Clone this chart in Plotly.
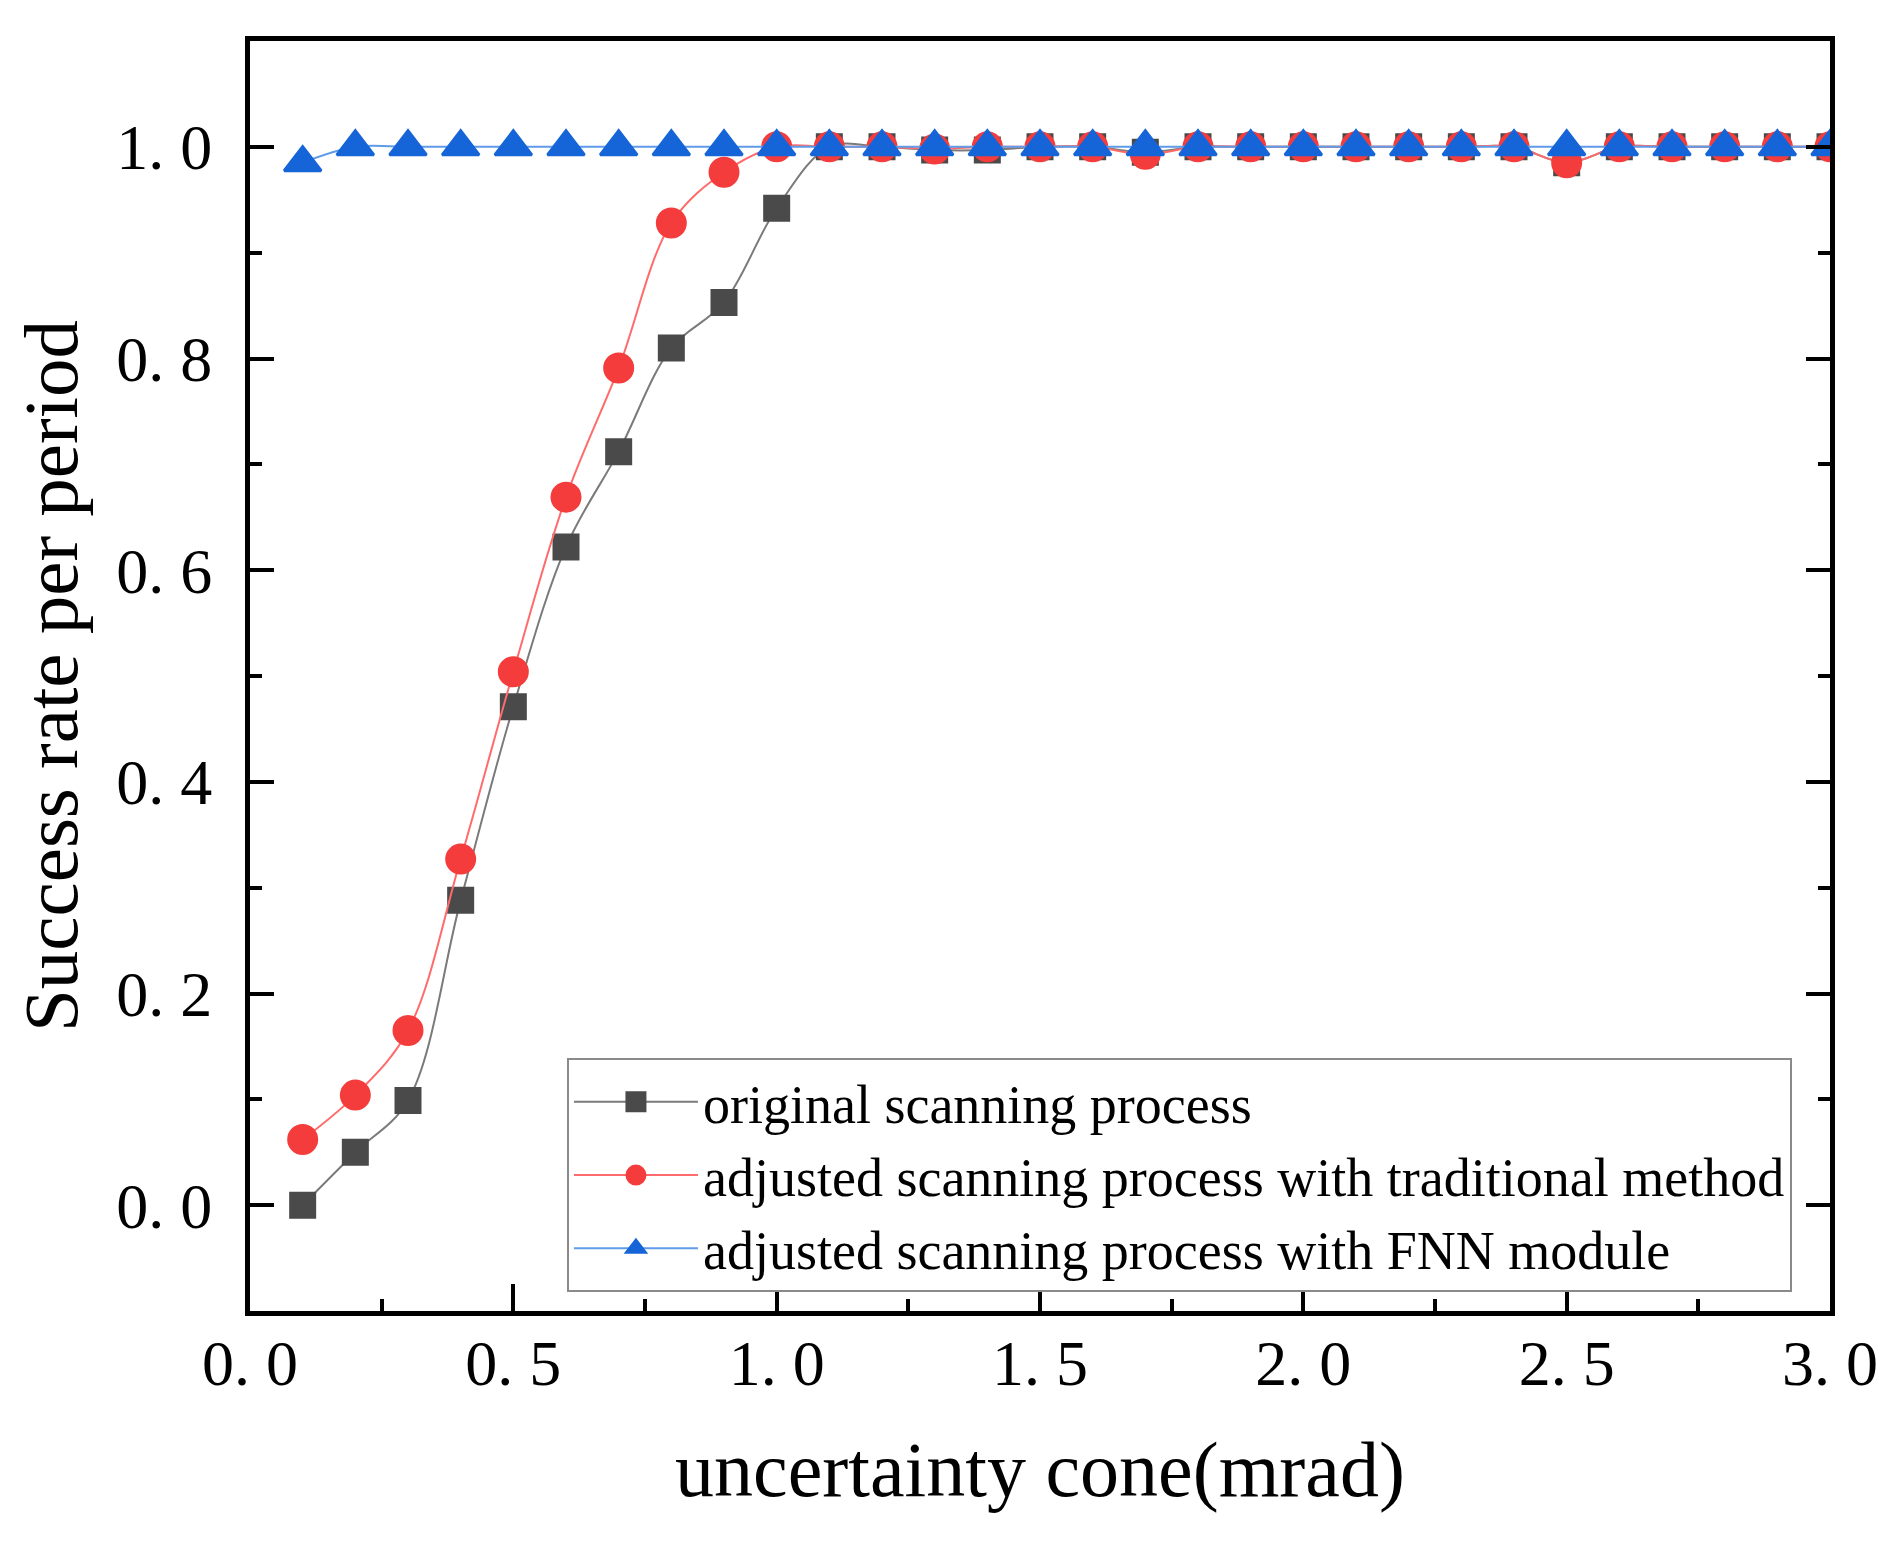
import plotly.graph_objects as go

x_vals = [round(0.1 * i, 1) for i in range(1, 31)]

original = [0.0, 0.05, 0.099, 0.288, 0.471, 0.622, 0.712, 0.81, 0.853, 0.942,
            1.0, 1.0, 0.997, 0.997, 1.0, 1.0, 0.995, 1.0, 1.0, 1.0,
            1.0, 1.0, 1.0, 1.0, 0.985, 1.0, 1.0, 1.0, 1.0, 1.0]
traditional = [0.062, 0.104, 0.165, 0.327, 0.504, 0.669, 0.791, 0.928, 0.976, 1.0,
               1.0, 1.0, 0.998, 1.0, 1.0, 1.0, 0.993, 1.0, 1.0, 1.0,
               1.0, 1.0, 1.0, 1.0, 0.985, 1.0, 1.0, 1.0, 1.0, 1.0]
fnn = [0.985] + [1.0] * 29

series_names = ["original scanning process",
                "adjusted scanning process with traditional method",
                "adjusted scanning process with FNN module"]

x_tickvals = [0, 0.5, 1.0, 1.5, 2.0, 2.5, 3.0]
x_ticktext = ["0. 0", "0. 5", "1. 0", "1. 5", "2. 0", "2. 5", "3. 0"]
y_tickvals = [0, 0.2, 0.4, 0.6, 0.8, 1.0]
y_ticktext = ["0. 0", "0. 2", "0. 4", "0. 6", "0. 8", "1. 0"]

FONT = "Liberation Serif, Times New Roman, serif"

fig = go.Figure()
fig.add_trace(go.Scatter(
    x=x_vals, y=original, name=series_names[0], mode="lines+markers", cliponaxis=True,
    line=dict(color="#7a7a7a", width=2, shape="spline", smoothing=1.0),
    marker=dict(symbol="square", size=22, color="#4a4a4a",
                line=dict(color="#4a4a4a", width=5))))
fig.add_trace(go.Scatter(
    x=x_vals, y=traditional, name=series_names[1], mode="lines+markers", cliponaxis=True,
    line=dict(color="#ff6b6b", width=2, shape="spline", smoothing=1.0),
    marker=dict(symbol="circle", size=26, color="#f43c3c",
                line=dict(color="#f43c3c", width=5))))
fig.add_trace(go.Scatter(
    x=x_vals, y=fnn, name=series_names[2], mode="lines+markers", cliponaxis=True,
    line=dict(color="#5f9be8", width=2, shape="spline", smoothing=1.0),
    marker=dict(symbol="triangle-up", size=32, color="#1565d8",
                line=dict(color="#1565d8", width=3))))

axis_common = dict(
    showgrid=False, zeroline=False, showline=True, linecolor="black", linewidth=5,
    ticks="inside", tickcolor="black", tickwidth=4,
    tickfont=dict(family=FONT, size=64, color="black"),
)

fig.update_xaxes(
    **axis_common, range=[0, 3.0], mirror=True,
    tickmode="array", tickvals=x_tickvals, ticktext=x_ticktext, ticklen=27,
    ticklabelstandoff=-8,
    minor=dict(tickmode="linear", tick0=0, dtick=0.25, ticks="inside",
               ticklen=12, tickwidth=4, tickcolor="black"),
    title=dict(text="uncertainty cone(mrad)", font=dict(family=FONT, size=78, color="black"),
               standoff=45),
)
fig.update_yaxes(
    **axis_common, range=[-0.1, 1.1], mirror="ticks",
    tickmode="array", tickvals=y_tickvals, ticktext=y_ticktext, ticklen=24,
    ticklabelstandoff=20,
    minor=dict(tickmode="linear", tick0=0, dtick=0.1, ticks="inside",
               ticklen=12, tickwidth=4, tickcolor="black"),
    title=dict(text="Success rate per period", font=dict(family=FONT, size=77, color="black"),
               standoff=20),
)

fig.update_layout(
    width=1901, height=1542,
    margin=dict(l=242, r=79, t=33, b=239),
    paper_bgcolor="white", plot_bgcolor="white",
    font=dict(family=FONT, color="black"),
    legend=dict(
        x=0.2006, y=0.199, xanchor="left", yanchor="top",
        bgcolor="white", bordercolor="#8a8a8a", borderwidth=2,
        font=dict(family=FONT, size=54, color="black"),
        itemwidth=124, tracegroupgap=0,
    ),
)

fig.write_html("out.html")
